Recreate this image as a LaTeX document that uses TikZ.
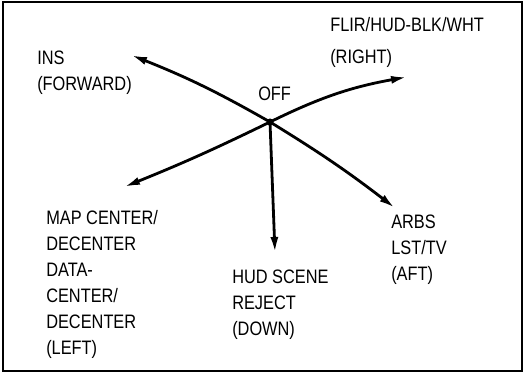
\documentclass[tikz,border=0pt]{standalone}
\usepackage{fontspec}
\setmainfont{Liberation Sans}[FakeStretch=0.84]
\usetikzlibrary{arrows.meta}

\begin{document}
\begin{tikzpicture}[
    x=0.75pt, y=0.75pt,
    label/.style={anchor=north west, inner sep=0pt, align=left, font=\fontsize{14.6}{19.5}\selectfont},
    arrow/.style={-{Latex[length=12pt, width=6pt]}, line width=2.1pt},
    frame/.style={draw, line width=1.3pt}
]
    \useasboundingbox (0,0) rectangle (531,373);
    \draw[frame] (3,2) rectangle (522,371);

    % Switch centre
    \coordinate (hub) at (270,251);
    \fill (hub) circle (3.5);
    \node[label] (off) at (258,286) {OFF};

    % Positions
    \node[label] (ins) at (37,322) {INS\\(FORWARD)};
    \node[label] (flir) at (330,356) {FLIR/HUD-BLK/WHT\\[4.5pt](RIGHT)};
    \node[label] (map) at (46,163) {MAP CENTER/\\DECENTER\\DATA-\\CENTER/\\DECENTER\\(LEFT)};
    \node[label] (hud) at (232,103) {HUD SCENE\\REJECT\\(DOWN)};
    \node[label] (arbs) at (391,158) {ARBS\\LST/TV\\(AFT)};

    % Arrow tips
    \coordinate (insTip) at (131,318);
    \coordinate (flirTip) at (407,296);
    \coordinate (mapTip) at (124,186);
    \coordinate (hudTip) at (275,120);
    \coordinate (arbsTip) at (395,165);

    % Arrows
    \draw[arrow] (hub) to[bend right=4] (insTip);
    \draw[arrow] (hub) to[bend left=8] (flirTip);
    \draw[arrow] (hub) to[bend left=2] (mapTip);
    \draw[arrow] (hub) -- (hudTip);
    \draw[arrow] (hub) to[bend left=3] (arbsTip);

\end{tikzpicture}
\end{document}
